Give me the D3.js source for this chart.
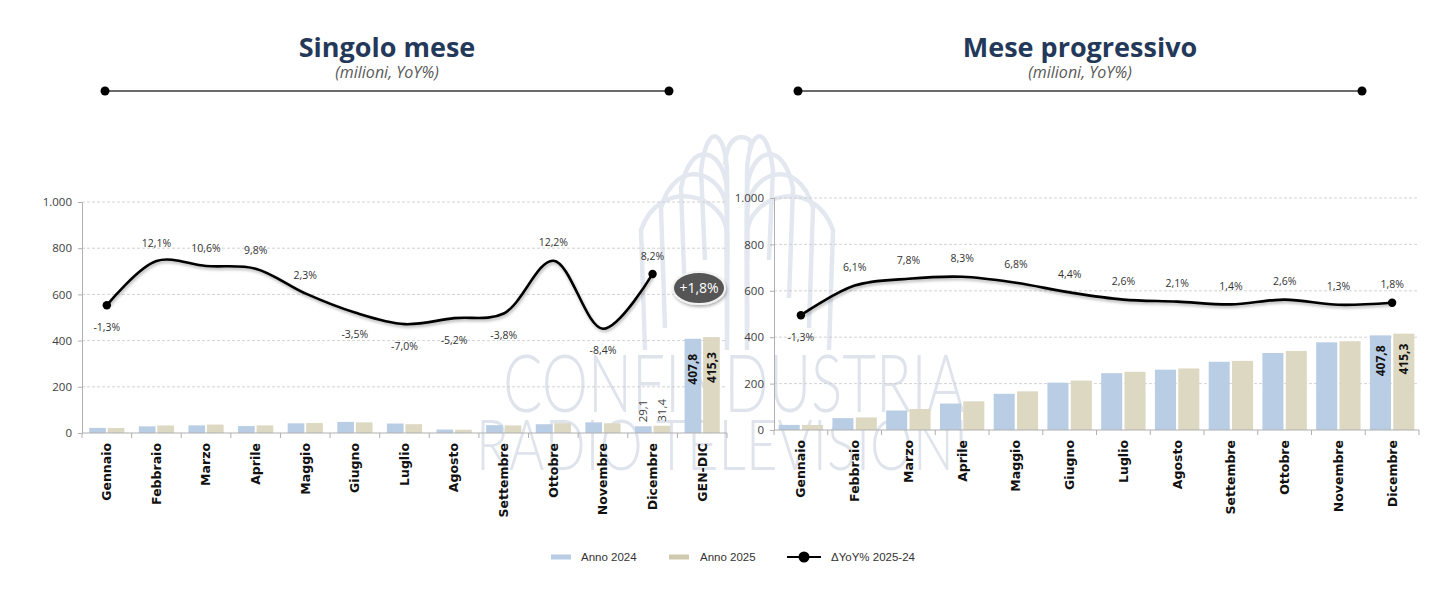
<!DOCTYPE html>
<html>
<head>
<meta charset="utf-8">
<script src="https://cdn.jsdelivr.net/npm/d3@7"></script>
<style>
  html, body { margin: 0; padding: 0; background: #fff; }
  svg { display: block; }
</style>
</head>
<body>
<div id="app"></div>
<script>
// ---------------------------------------------------------------- data
const months = ["Gennaio", "Febbraio", "Marzo", "Aprile", "Maggio", "Giugno",
  "Luglio", "Agosto", "Settembre", "Ottobre", "Novembre", "Dicembre"];
const singleCats = [...months, "GEN-DIC"];

// singolo mese (milioni)
const single2024 = [22, 29, 33, 30, 42, 48, 41, 15, 34, 38, 46, 29.1, 407.8];
const single2025 = [21.7, 32.5, 36.5, 32.9, 43, 46.3, 38.1, 14.2, 32.7, 42.6, 42.1, 31.4, 415.3];
const singleYoY = [-1.3, 12.1, 10.6, 9.8, 2.3, -3.5, -7.0, -5.2, -3.8, 12.2, -8.4, 8.2];

// mese progressivo (milioni)
const progr2024 = [22, 51, 84, 114, 156, 204, 245, 260, 294, 332, 378, 407.8];
const progr2025 = [21.7, 54.2, 90.7, 123.6, 166.6, 212.9, 251, 265.2, 297.9, 340.5, 382.6, 415.3];
const progrYoY = [-1.3, 6.1, 7.8, 8.3, 6.8, 4.4, 2.6, 2.1, 1.4, 2.6, 1.3, 1.8];

const yTicks = [0, 200, 400, 600, 800, 1000];
const totalYoY = 1.8;
const seriesNames = ["Anno 2024", "Anno 2025", "\u0394YoY% 2025-24"];

// ---------------------------------------------------------------- setup
const width = 1450, height = 593;
const col2024 = "#b9cde5", col2025 = "#dcd8c2";
const font = "'Open Sans', 'DejaVu Sans', sans-serif";
const wide = "'DejaVu Sans', sans-serif";

const itNum = d3.formatLocale({ decimal: ",", thousands: ".", grouping: [3], currency: ["", "€"], minus: "-" });
const fmtTick = itNum.format(",.0f");
const fmtVal = itNum.format(".1f");
const fmtPct = (v) => itNum.format(".1f")(v) + "%";

const svg = d3.select("#app").append("svg")
  .attr("width", width).attr("height", height)
  .style("font-family", font);

const defs = svg.append("defs");
const shadow = defs.append("filter").attr("id", "shadow")
  .attr("x", "-20%").attr("y", "-50%").attr("width", "140%").attr("height", "200%");
shadow.append("feDropShadow").attr("dx", 1).attr("dy", 2)
  .attr("stdDeviation", 1.4).attr("flood-color", "#000").attr("flood-opacity", 0.3);

//////////////////////////// watermark ////////////////////////////////////
const wm = svg.append("g").attr("class", "watermark")
  .attr("fill", "none").attr("stroke", "#e3e8f0").attr("stroke-width", 4.5);
const cx = 737;
// wing feathers: nested arches, wider towards the outside
[[96, 200, 150], [76, 178, 150], [56, 158, 140], [36, 140, 120]].forEach(([w, top, h]) => {
  [-1, 1].forEach((s) => {
    wm.append("path").attr("d",
      `M${cx + s * 10},${top + h} L${cx + s * 10},${top + 35}` +
      ` C${cx + s * 10},${top - 5} ${cx + s * w * 0.8},${top - 25} ${cx + s * w},${top + 30}` +
      ` L${cx + s * (w - 4)},${top + h}`);
  });
});
wm.append("path").attr("d", `M${cx - 12},165 Q${cx - 10},138 ${cx + 4},137 Q${cx + 18},138 ${cx + 12},150`);
svg.append("text").attr("class", "watermark")
  .attr("x", 503).attr("y", 412).attr("textLength", 462).attr("lengthAdjust", "spacingAndGlyphs")
  .style("font-family", "Lato, sans-serif").style("font-weight", 300)
  .style("font-size", "80px").attr("fill", "#dfe4ec").text("CONFINDUSTRIA");
svg.append("text").attr("class", "watermark")
  .attr("x", 476).attr("y", 470).attr("textLength", 492).attr("lengthAdjust", "spacingAndGlyphs")
  .style("font-family", "Lato, sans-serif").style("font-weight", 300)
  .style("font-size", "70px").attr("fill", "#dfe4ec").text("RADIO TELEVISIONI");

//////////////////////////// panel ////////////////////////////////////////
const drawPanel = (cfg) => {
  const g = svg.append("g").attr("class", cfg.cls);
  const mid = (cfg.lineX[0] + cfg.lineX[1]) / 2;

  // title
  g.append("text").attr("x", mid).attr("y", 57)
    .attr("text-anchor", "middle").attr("fill", "#24395a")
    .style("font-size", "27px").style("font-weight", 700).text(cfg.title);
  g.append("text").attr("x", mid).attr("y", 78)
    .attr("text-anchor", "middle").attr("fill", "#595959")
    .style("font-size", "16px").style("font-style", "italic").text("(milioni, YoY%)");
  g.append("line").attr("x1", cfg.lineX[0]).attr("x2", cfg.lineX[1])
    .attr("y1", 91).attr("y2", 91).attr("stroke", "#3a3a3a").attr("stroke-width", 1.5);
  cfg.lineX.forEach((x) => g.append("circle").attr("cx", x).attr("cy", 91).attr("r", 4.5).attr("fill", "#000"));

  // scales
  const x = d3.scaleBand().domain(cfg.cats).range(cfg.xRange);
  const xSub = d3.scaleBand().domain(["2024", "2025"]).range([0, x.bandwidth()])
    .paddingInner(0.1).paddingOuter(cfg.outer);
  const y = d3.scaleLinear().domain([0, 1000]).range(cfg.yRange);
  const y2 = d3.scaleLinear().domain(cfg.pctDomain).range(cfg.yRange);

  // grid
  g.append("g").selectAll("line").data(yTicks.filter((t) => t > 0)).join("line")
    .attr("x1", cfg.xRange[0]).attr("x2", cfg.xRange[1])
    .attr("y1", (d) => y(d)).attr("y2", (d) => y(d))
    .attr("stroke", "#c8c8c8").attr("stroke-dasharray", "3,2").attr("stroke-width", 0.8);

  // y axis
  const yAxis = g.append("g").attr("transform", `translate(${cfg.xRange[0]},0)`)
    .call(d3.axisLeft(y).tickValues(yTicks).tickFormat(fmtTick).tickSize(4).tickPadding(6));
  yAxis.select(".domain").attr("stroke", "#b0b0b0");
  yAxis.selectAll(".tick line").attr("stroke", "#b0b0b0");
  yAxis.selectAll(".tick text").attr("fill", "#404040").style("font-size", "11.5px").style("font-family", font);

  // bars
  const rows = cfg.cats.map((c, i) => ({ cat: c, i, v24: cfg.v24[i], v25: cfg.v25[i] }));
  const barG = g.append("g").selectAll("g").data(rows).join("g")
    .attr("transform", (d) => `translate(${x(d.cat)},0)`);
  barG.append("rect").attr("x", xSub("2024")).attr("width", xSub.bandwidth())
    .attr("y", (d) => y(d.v24)).attr("height", (d) => y(0) - y(d.v24)).attr("fill", col2024);
  barG.append("rect").attr("x", xSub("2025")).attr("width", xSub.bandwidth())
    .attr("y", (d) => y(d.v25)).attr("height", (d) => y(0) - y(d.v25)).attr("fill", col2025);

  // value labels
  cfg.labels.forEach((lb) => {
    const d = rows.find((r) => r.cat === lb.cat);
    [["2024", d.v24], ["2025", d.v25]].forEach(([k, v]) => {
      const bx = x(d.cat) + xSub(k) + xSub.bandwidth() / 2;
      const inside = lb.inside;
      const by = inside ? y(v) + lb.pad : y(v) - 4;
      g.append("text")
        .attr("transform", `translate(${bx},${by}) rotate(-90)`)
        .attr("text-anchor", inside ? "end" : "start").attr("dy", "0.35em")
        .attr("fill", inside ? "#111" : "#404040")
        .style("font-size", inside ? "12px" : "11.5px")
        .style("font-weight", inside ? 700 : 400)
        .text(fmtVal(v));
    });
  });

  // x axis
  g.append("line").attr("x1", cfg.xRange[0]).attr("x2", cfg.xRange[1])
    .attr("y1", y(0)).attr("y2", y(0)).attr("stroke", "#b0b0b0");
  g.append("g").selectAll("line").data(cfg.cats.concat(["__end"])).join("line")
    .attr("x1", (d, i) => cfg.xRange[0] + i * x.step()).attr("x2", (d, i) => cfg.xRange[0] + i * x.step())
    .attr("y1", y(0)).attr("y2", y(0) + 5).attr("stroke", "#b0b0b0");
  g.append("g").selectAll("text").data(cfg.cats).join("text")
    .attr("transform", (d) => `translate(${x(d) + x.bandwidth() / 2},${y(0) + 10}) rotate(-90)`)
    .attr("text-anchor", "end").attr("dy", "0.35em").attr("fill", "#111")
    .style("font-family", wide)
    .style("font-size", "12.5px").style("font-weight", 700).text((d) => d);

  // yoy line
  const pts = cfg.yoy.map((v, i) => ({ cat: months[i], v }));
  const line = d3.line()
    .x((d) => x(d.cat) + x.bandwidth() / 2)
    .y((d) => y2(d.v))
    .curve(d3.curveCatmullRom.alpha(0.5));
  g.append("path").datum(pts).attr("d", line)
    .attr("fill", "none").attr("stroke", "#000").attr("stroke-width", 2.6)
    .attr("filter", "url(#shadow)");
  [pts[0], pts[pts.length - 1]].forEach((d) => {
    g.append("circle").attr("cx", x(d.cat) + x.bandwidth() / 2).attr("cy", y2(d.v))
      .attr("r", 4.2).attr("fill", "#000");
  });
  g.append("g").selectAll("text").data(pts).join("text")
    .attr("x", (d) => x(d.cat) + x.bandwidth() / 2)
    .attr("y", (d) => y2(d.v) + (d.v < 0 ? 22 : -18))
    .attr("dy", "0.35em").attr("text-anchor", "middle").attr("fill", "#333")
    .style("font-size", "10.5px").text((d) => fmtPct(d.v));

  return { x, y, y2 };
};

const left = drawPanel({
  cls: "singolo", title: "Singolo mese", lineX: [105, 669],
  cats: singleCats, v24: single2024, v25: single2025, yoy: singleYoY,
  xRange: [82, 727], yRange: [433, 202], pctDomain: [-40, 30], outer: 0.39,
  labels: [{ cat: "Dicembre", inside: false }, { cat: "GEN-DIC", inside: true, pad: 15 }]
});

const right = drawPanel({
  cls: "progressivo", title: "Mese progressivo", lineX: [798, 1362],
  cats: months, v24: progr2024, v25: progr2025, yoy: progrYoY,
  xRange: [774, 1419], yRange: [430, 198], pctDomain: [-30, 28], outer: 0.2,
  labels: [{ cat: "Dicembre", inside: true, pad: 10 }]
});

//////////////////////////// total badge //////////////////////////////////
const badge = svg.append("g").attr("transform", "translate(699,288)");
badge.append("ellipse").attr("rx", 26).attr("ry", 16).attr("fill", "#545454")
  .attr("stroke", "#f2f2f2").attr("stroke-width", 2).attr("filter", "url(#shadow)");
badge.append("text").attr("text-anchor", "middle").attr("dy", "0.35em")
  .attr("fill", "#fff").style("font-size", "14px").text("+" + fmtPct(totalYoY));

//////////////////////////// legend ///////////////////////////////////////
const legend = svg.append("g").attr("class", "legend")
  .style("font-family", "'Liberation Sans', Arial, sans-serif").style("font-size", "11.5px");
legend.append("line").attr("x1", 551).attr("x2", 571).attr("y1", 557).attr("y2", 557)
  .attr("stroke", col2024).attr("stroke-width", 5);
legend.append("text").attr("x", 581).attr("y", 557).attr("dy", "0.35em").attr("fill", "#333").text(seriesNames[0]);
legend.append("line").attr("x1", 669).attr("x2", 689).attr("y1", 557).attr("y2", 557)
  .attr("stroke", "#cfcaae").attr("stroke-width", 5);
legend.append("text").attr("x", 700).attr("y", 557).attr("dy", "0.35em").attr("fill", "#333").text(seriesNames[1]);
legend.append("line").attr("x1", 787).attr("x2", 821).attr("y1", 557).attr("y2", 557)
  .attr("stroke", "#000").attr("stroke-width", 2);
legend.append("circle").attr("cx", 804).attr("cy", 557).attr("r", 5.5).attr("fill", "#000");
legend.append("text").attr("x", 831).attr("y", 557).attr("dy", "0.35em").attr("fill", "#333").text(seriesNames[2]);
</script>
</body>
</html>
